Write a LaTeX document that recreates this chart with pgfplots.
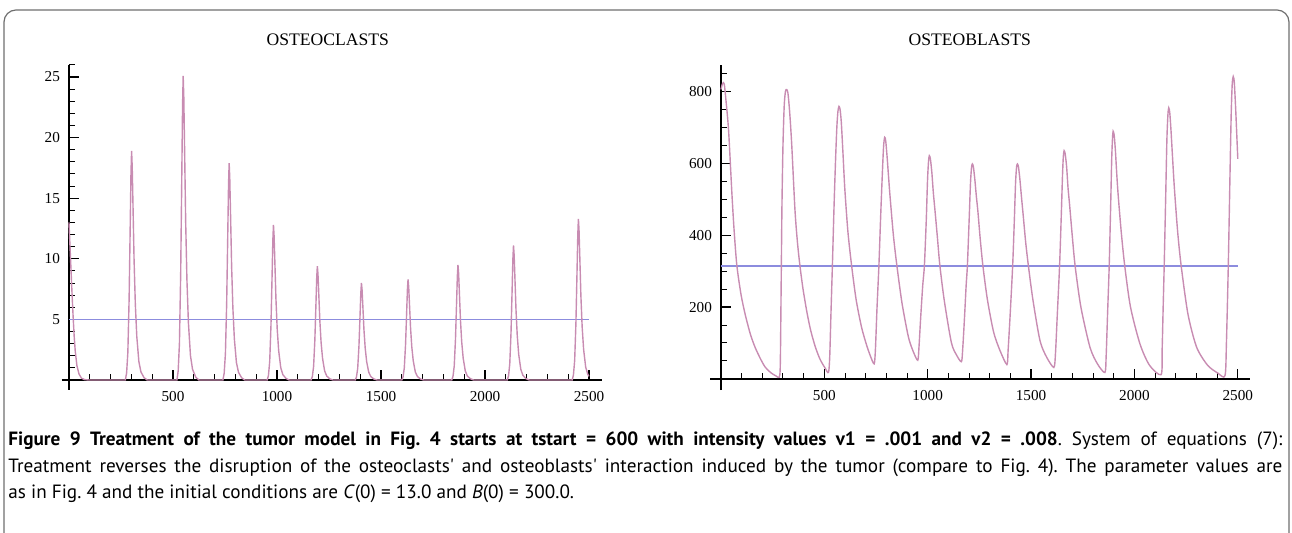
\documentclass[border=0pt]{standalone}
\usepackage{fontspec}
\setmainfont{Liberation Serif}
\newfontfamily\capfont{PT Sans}
\usepackage{pgfplots}
\pgfplotsset{compat=1.18}
\definecolor{curve}{RGB}{200,140,178}
\definecolor{hline}{RGB}{140,140,222}
\definecolor{frame}{RGB}{110,110,110}
\pgfplotsset{
  mmastyle/.style={
    scale only axis,
    axis x line=bottom,
    axis y line=left,
    axis line style={-, black, line width=0.65pt},
    every outer x axis line/.append style={-},
    every outer y axis line/.append style={-},
    xtick align=inside,
    ytick align=inside,
    major tick length=5pt,
    minor tick length=3pt,
    major tick style={black, line width=0.6pt},
    minor tick style={black, line width=0.5pt},
    tick label style={font=\fontsize{7.6}{9}\selectfont, black},
    /pgf/number format/assume math mode=true,
    /pgf/number format/1000 sep={},
    xtick={500,1000,1500,2000,2500},
    minor xtick={100,200,300,400,600,700,800,900,1100,1200,1300,1400,1600,1700,1800,1900,2100,2200,2300,2400},
    xticklabel style={yshift=-2pt},
    yticklabel style={xshift=-1pt},
    title style={font=\fontsize{8.8}{10}\selectfont, anchor=center},
    clip=false,
  }
}
\begin{document}
\begin{tikzpicture}
\useasboundingbox (0,0) rectangle (646pt,266.5pt);
\draw[frame, line width=0.6pt, rounded corners=6pt] (2pt,-12pt) -- (2pt,261.5pt) -- (644.5pt,261.5pt) -- (644.5pt,-12pt);

\begin{axis}[mmastyle,
  at={(30.85pt,71.65pt)}, anchor=south west,
  width=269.9pt, height=162.4pt,
  xmin=-35, xmax=2560, ymin=-0.8, ymax=26,
  axis x line shift=-4.85pt,
  axis y line shift=-3.64pt,
  ytick={5,10,15,20,25},
  minor ytick={1,2,3,4,6,7,8,9,11,12,13,14,16,17,18,19,21,22,23,24,26},
  title={OSTEOCLASTS},
  title style={at={(0.493,1.04)}},
]
\addplot[hline, line width=0.75pt] coordinates {(0,5) (2500,5)};
\addplot[curve, line width=0.7pt] coordinates {
(0,13.0) (5,11.0) (10,9.0) (15,7.0) (20,5.2) (25,3.6) (30,2.4) (38,1.2) (48,0.5) (60,0.15) (75,0.03) (95,0)
(271,0) (277,0.57) (283,2.27) (289,6.62) (294,12.29) (298,17.01) (301,18.9) (304,17.58) (308,14.18) (313,9.83) (319,6.24) (326,3.59) (336,1.51) (346,0.66) (361,0.19) (376,0)
(519,0) (525,0.75) (531,3.01) (537,8.79) (542,16.32) (546,22.59) (549,25.1) (552,23.34) (556,18.83) (561,13.05) (567,8.28) (574,4.77) (584,2.01) (594,0.88) (609,0.25) (624,0)
(740,0) (746,0.54) (752,2.15) (758,6.27) (763,11.64) (767,16.11) (770,17.9) (773,16.65) (777,13.43) (782,9.31) (788,5.91) (795,3.4) (805,1.43) (815,0.63) (830,0.18) (845,0)
(953,0) (959,0.38) (965,1.54) (971,4.48) (976,8.32) (980,11.52) (983,12.8) (986,11.9) (990,9.6) (995,6.66) (1001,4.22) (1008,2.43) (1018,1.02) (1028,0.45) (1043,0.13) (1058,0)
(1164,0) (1170,0.28) (1176,1.13) (1182,3.29) (1187,6.11) (1191,8.46) (1194,9.4) (1197,8.74) (1201,7.05) (1206,4.89) (1212,3.1) (1219,1.79) (1229,0.75) (1239,0.33) (1254,0.09) (1269,0)
(1376,0) (1382,0.24) (1388,0.96) (1394,2.8) (1399,5.2) (1403,7.2) (1406,8.0) (1409,7.44) (1413,6.0) (1418,4.16) (1424,2.64) (1431,1.52) (1441,0.64) (1451,0.28) (1466,0.08) (1481,0)
(1600,0) (1606,0.25) (1612,1.0) (1618,2.91) (1623,5.4) (1627,7.47) (1630,8.3) (1633,7.72) (1637,6.23) (1642,4.32) (1648,2.74) (1655,1.58) (1665,0.66) (1675,0.29) (1690,0.08) (1705,0)
(1840,0) (1846,0.29) (1852,1.14) (1858,3.33) (1863,6.18) (1867,8.55) (1870,9.5) (1873,8.84) (1877,7.13) (1882,4.94) (1888,3.14) (1895,1.81) (1905,0.76) (1915,0.33) (1930,0.1) (1945,0)
(2107,0) (2113,0.33) (2119,1.33) (2125,3.89) (2130,7.22) (2134,9.99) (2137,11.1) (2140,10.32) (2144,8.33) (2149,5.77) (2155,3.66) (2162,2.11) (2172,0.89) (2182,0.39) (2197,0.11) (2212,0)
(2419,0) (2425,0.4) (2431,1.6) (2437,4.66) (2442,8.65) (2446,11.97) (2449,13.3) (2452,12.37) (2456,9.98) (2461,6.92) (2467,4.39) (2474,2.53) (2484,1.06) (2494,0.47) (2500,0.3)
};
\end{axis}

\begin{axis}[mmastyle,
  at={(355pt,71.45pt)}, anchor=south west,
  width=270.1pt, height=162.5pt,
  xmin=-53, xmax=2560, ymin=-31, ymax=873,
  axis x line shift=-5.57pt,
  axis y line shift=-5.48pt,
  ytick={200,400,600,800},
  minor ytick={50,100,150,250,300,350,450,500,550,650,700,750,850},
  title={OSTEOBLASTS},
  title style={at={(0.481,1.04)}},
]
\addplot[hline, line width=0.9pt] coordinates {(0,315) (2500,315)};
\addplot[curve, line width=0.7pt, smooth, tension=0.45] coordinates {
(0,805) (8,822) (16,820) (25,770) (37,690) (53,515) (64,410) (77,315) (97,235) (117,180) (142,125) (165,88) (192,55) (214,33) (242,17) (267,8) (282,5)
(287,40) (291,250) (295,480) (300,650) (306,760) (312,800) (318,805)
(324,795) (332,745) (342,655) (358,470) (370,380) (382,315) (397,250) (416,185) (434,135) (456,90) (479,55) (504,30) (520,18)
(526,60) (532,180) (539,315) (547,480) (555,620) (561,705) (566,745) (571,758)
(576,750) (582,715) (590,630) (599,530) (614,410) (632,315) (654,220) (680,144) (704,95) (724,62) (741,42)
(747,80) (755,200) (764,315) (773,460) (782,590) (787,650) (792,672)
(797,662) (804,615) (811,560) (817,514) (834,400) (851,315) (876,210) (907,116) (931,75) (952,52)
(958,90) (966,170) (976,260) (984,315) (993,440) (999,550) (1004,605) (1008,621)
(1013,612) (1020,575) (1027,520) (1035,470) (1046,400) (1059,315) (1081,215) (1115,100) (1141,65) (1163,48)
(1169,80) (1178,170) (1186,260) (1192,315) (1201,450) (1207,545) (1212,588) (1216,598)
(1221,590) (1228,555) (1235,510) (1243,465) (1254,390) (1267,315) (1289,220) (1319,130) (1349,80) (1383,40)
(1389,80) (1399,180) (1411,315) (1419,440) (1425,545) (1430,590) (1434,598)
(1439,590) (1446,555) (1453,510) (1462,455) (1474,380) (1487,315) (1509,220) (1543,107) (1574,62) (1610,32)
(1618,70) (1627,180) (1638,315) (1647,470) (1652,565) (1656,618) (1660,635)
(1665,626) (1672,590) (1679,530) (1686,487) (1699,400) (1713,315) (1741,200) (1785,88) (1821,42) (1857,18)
(1863,60) (1870,180) (1878,315) (1885,480) (1890,610) (1894,670) (1897,689)
(1902,678) (1908,635) (1914,575) (1921,514) (1936,410) (1953,315) (1981,200) (2027,97) (2073,38) (2129,12)
(2134,80) (2139,200) (2144,315) (2151,500) (2157,665) (2162,735) (2166,754)
(2171,740) (2177,690) (2184,620) (2193,533) (2209,410) (2226,315) (2259,180) (2301,88) (2354,38) (2404,16) (2438,9)
(2445,100) (2454,315) (2462,560) (2468,735) (2473,820) (2478,841)
(2483,825) (2489,760) (2495,680) (2500,612)
};
\end{axis}

\node[anchor=base west, inner sep=0pt] at (4pt,43.5pt) {\capfont\frenchspacing\fontsize{9.6}{11}\selectfont\makebox[637pt][s]{\bfseries Figure 9 Treatment of the tumor model in Fig. 4 starts at tstart = 600 with intensity values v1 = .001 and v2 = .008\mdseries. System of equations (7):}};
\node[anchor=base west, inner sep=0pt] at (4pt,30pt) {\capfont\frenchspacing\fontsize{9.6}{11}\selectfont\makebox[637pt][s]{Treatment reverses the disruption of the osteoclasts' and osteoblasts' interaction induced by the tumor (compare to Fig. 4). The parameter values are}};
\node[anchor=base west, inner sep=0pt] at (4pt,17pt) {\capfont\frenchspacing\fontsize{9.6}{11}\selectfont as in Fig. 4 and the initial conditions are \textit{C}(0) = 13.0 and \textit{B}(0) = 300.0.};
\end{tikzpicture}
\end{document}
